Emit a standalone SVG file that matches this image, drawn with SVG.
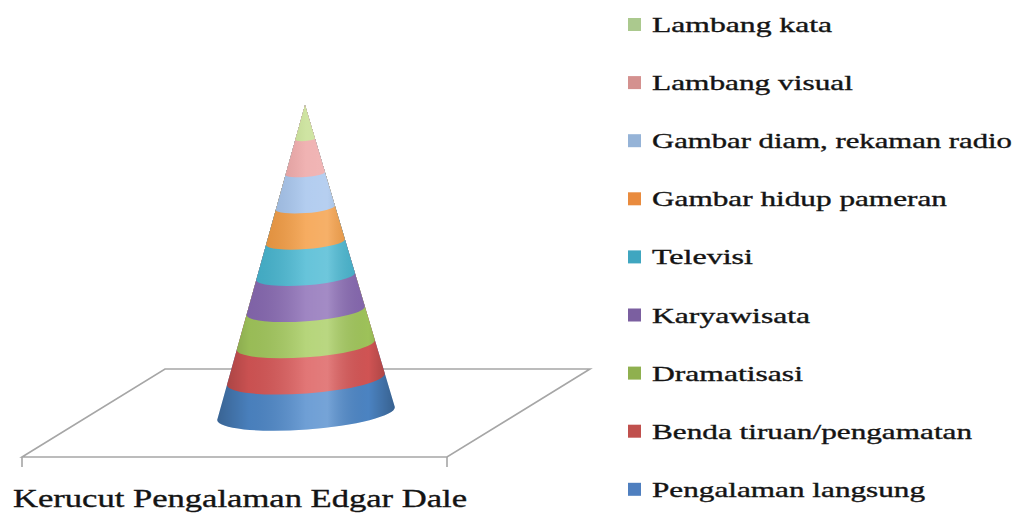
<svg xmlns="http://www.w3.org/2000/svg" width="1019" height="513" viewBox="0 0 1019 513">
<style>
.lbl{font-family:"Liberation Serif","Times New Roman",serif;font-size:21px;fill:#141414;stroke:#141414;stroke-width:0.35}
.ttl{font-family:"Liberation Serif","Times New Roman",serif;font-size:25px;fill:#141414;stroke:#141414;stroke-width:0.35}
.floor{fill:none;stroke:#a6a6a6;stroke-width:1.6}
</style>
<defs>
<clipPath id="coneClip">
<path d="M305,105 L217.2,420 A89 16 -4.2 0 0 394.8,407 Z"/>
</clipPath>
<linearGradient id="shade" gradientUnits="userSpaceOnUse" x1="217" y1="0" x2="395" y2="0">
<stop offset="0" stop-color="#000" stop-opacity="0.28"/>
<stop offset="0.18" stop-color="#000" stop-opacity="0.08"/>
<stop offset="0.5" stop-color="#fff" stop-opacity="0.18"/>
<stop offset="0.62" stop-color="#fff" stop-opacity="0.22"/>
<stop offset="0.85" stop-color="#000" stop-opacity="0.05"/>
<stop offset="1" stop-color="#000" stop-opacity="0.3"/>
</linearGradient>
</defs>
<rect width="1019" height="513" fill="#fff"/>

<g id="floor">
<path class="floor" d="M165,369 L590,369 L447,457 L22,457 Z"/>
<path class="floor" d="M22,457 V467 M447,457 V467"/>
</g>

<g id="cone" clip-path="url(#coneClip)">
<rect x="200" y="95" width="220" height="345" fill="#4F8ACC"/>
<path d="M226.99,385.01 L0,385.01 L0,0 L600,0 L600,373.43 L384.79,373.43 A79.11 14.22 -4.2 0 1 226.99,385.01 Z" fill="#DB5858"/>
<path d="M236.74,350.01 L0,350.01 L0,0 L600,0 L600,339.87 L374.82,339.87 A69.22 12.44 -4.2 0 1 236.74,350.01 Z" fill="#A6CC5E"/>
<path d="M246.50,315.01 L0,315.01 L0,0 L600,0 L600,306.33 L364.84,306.33 A59.33 10.67 -4.2 0 1 246.50,315.01 Z" fill="#8A6BB5"/>
<path d="M256.25,280.01 L0,280.01 L0,0 L600,0 L600,272.77 L354.87,272.77 A49.44 8.89 -4.2 0 1 256.25,280.01 Z" fill="#45B7D2"/>
<path d="M265.99,245.01 L0,245.01 L0,0 L600,0 L600,239.21 L344.89,239.21 A39.56 7.11 -4.2 0 1 265.99,245.01 Z" fill="#F49A3E"/>
<path d="M275.74,210.00 L0,210.00 L0,0 L600,0 L600,205.66 L334.92,205.66 A29.67 5.33 -4.2 0 1 275.74,210.00 Z" fill="#A2C2EC"/>
<path d="M285.50,175.01 L0,175.01 L0,0 L600,0 L600,172.11 L324.94,172.11 A19.78 3.56 -4.2 0 1 285.50,175.01 Z" fill="#EDA2A2"/>
<path d="M295.25,140.00 L0,140.00 L0,0 L600,0 L600,138.56 L314.97,138.56 A9.89 1.78 -4.2 0 1 295.25,140.00 Z" fill="#C4DE8E"/>
<rect x="200" y="95" width="220" height="345" fill="url(#shade)"/>
</g>

<g id="title">
<text class="ttl" transform="translate(13,507) scale(1.38,1)" x="0" y="0" textLength="329" lengthAdjust="spacingAndGlyphs">Kerucut Pengalaman Edgar Dale</text>
</g>

<g id="legend-lambang-kata">
<rect x="628" y="18" width="13" height="13" fill="#ABC98E"/>
<text class="lbl" transform="translate(652,32) scale(1.42,1)" textLength="126.8" lengthAdjust="spacingAndGlyphs">Lambang kata</text>
</g>
<g id="legend-lambang-visual">
<rect x="628" y="76.1" width="13" height="13" fill="#D4918F"/>
<text class="lbl" transform="translate(652,90.1) scale(1.42,1)" textLength="141.5" lengthAdjust="spacingAndGlyphs">Lambang visual</text>
</g>
<g id="legend-gambar-diam">
<rect x="628" y="134.2" width="13" height="13" fill="#95B3D7"/>
<text class="lbl" transform="translate(652,148.2) scale(1.42,1)" textLength="253.5" lengthAdjust="spacingAndGlyphs">Gambar diam, rekaman radio</text>
</g>
<g id="legend-gambar-hidup">
<rect x="628" y="192.3" width="13" height="13" fill="#E98B3E"/>
<text class="lbl" transform="translate(652,206.3) scale(1.42,1)" textLength="207.7" lengthAdjust="spacingAndGlyphs">Gambar hidup pameran</text>
</g>
<g id="legend-televisi">
<rect x="628" y="250.4" width="13" height="13" fill="#3FA6C0"/>
<text class="lbl" transform="translate(652,264.4) scale(1.42,1)" textLength="71.1" lengthAdjust="spacingAndGlyphs">Televisi</text>
</g>
<g id="legend-karyawisata">
<rect x="628" y="308.5" width="13" height="13" fill="#7B5FA0"/>
<text class="lbl" transform="translate(652,322.5) scale(1.42,1)" textLength="111.3" lengthAdjust="spacingAndGlyphs">Karyawisata</text>
</g>
<g id="legend-dramatisasi">
<rect x="628" y="366.6" width="13" height="13" fill="#8FB04F"/>
<text class="lbl" transform="translate(652,380.6) scale(1.42,1)" textLength="106.3" lengthAdjust="spacingAndGlyphs">Dramatisasi</text>
</g>
<g id="legend-benda-tiruan">
<rect x="628" y="424.7" width="13" height="13" fill="#C0504D"/>
<text class="lbl" transform="translate(652,438.7) scale(1.42,1)" textLength="225.4" lengthAdjust="spacingAndGlyphs">Benda tiruan/pengamatan</text>
</g>
<g id="legend-pengalaman-langsung">
<rect x="628" y="482.8" width="13" height="13" fill="#4F7FBF"/>
<text class="lbl" transform="translate(652,496.8) scale(1.42,1)" textLength="192.3" lengthAdjust="spacingAndGlyphs">Pengalaman langsung</text>
</g>
</svg>
